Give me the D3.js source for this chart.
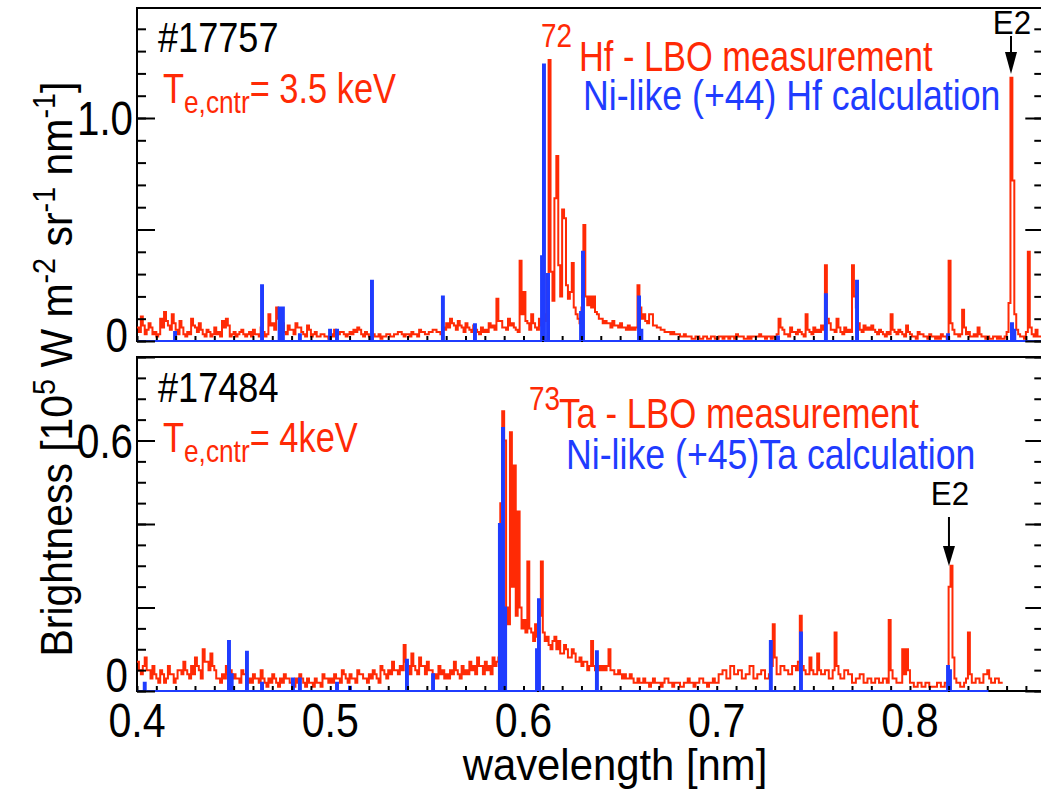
<!DOCTYPE html>
<html>
<head>
<meta charset="utf-8">
<script src="https://cdn.jsdelivr.net/npm/d3@7"></script>
<style>
  body { margin: 0; background: #fff; }
  svg { display: block; }
  text { font-family: "Liberation Sans", Arimo, Arial, sans-serif; }
</style>
</head>
<body>
<svg id="chart" width="1041" height="790"></svg>
<script>
// ---- Hf (#17757): measured LBO spectrum, 0.001 nm bins from 0.400 nm (10^5 W m^-2 sr^-1 nm^-1)
const hfStart = 0.400, hfStep = 0.001;
const hfMeasured = [
  0.06,0.04,0.11,0.07,0.03,0.05,0.08,0.06,0.03,0.04,
  0.02,0.03,0.10,0.06,0.13,0.09,0.07,0.05,0.12,0.08,
  0.05,0.03,0.09,0.06,0.03,0.02,0.04,0.03,0.10,0.07,
  0.06,0.04,0.08,0.05,0.03,0.02,0.05,0.04,0.02,0.03,
  0.06,0.03,0.04,0.02,0.09,0.06,0.10,0.07,0.02,0.03,
  0.04,0.02,0.03,0.04,0.05,0.03,0.02,0.03,0.04,0.02,
  0.05,0.03,0.03,0.02,0.06,0.04,0.02,0.03,0.12,0.07,
  0.08,0.05,0.15,0.10,0.14,0.08,0.04,0.03,0.07,0.05,
  0.05,0.03,0.08,0.06,0.06,0.04,0.03,0.02,0.07,0.05,
  0.02,0.03,0.04,0.02,0.02,0.03,0.03,0.02,0.02,0.01,
  0.03,0.02,0.05,0.03,0.03,0.04,0.04,0.03,0.02,0.03,
  0.04,0.03,0.05,0.04,0.06,0.05,0.03,0.02,0.04,0.03,
  0.02,0.01,0.03,0.02,0.02,0.03,0.01,0.02,0.02,0.03,
  0.03,0.02,0.02,0.03,0.03,0.04,0.04,0.03,0.02,0.03,
  0.03,0.02,0.04,0.03,0.03,0.02,0.05,0.04,0.04,0.03,
  0.03,0.04,0.04,0.05,0.05,0.04,0.04,0.03,0.06,0.05,
  0.08,0.06,0.10,0.08,0.07,0.05,0.09,0.07,0.06,0.04,
  0.08,0.06,0.05,0.04,0.07,0.05,0.04,0.03,0.06,0.04,
  0.05,0.04,0.08,0.06,0.07,0.05,0.19,0.09,0.09,0.06,
  0.06,0.05,0.10,0.07,0.08,0.06,0.05,0.04,0.36,0.12,
  0.22,0.09,0.08,0.05,0.12,0.08,0.06,0.05,0.10,0.07,
  0.12,0.09,0.30,1.26,0.31,0.18,0.64,0.83,0.34,0.20,
  0.59,0.55,0.25,0.19,0.22,0.35,0.15,0.12,0.10,0.08,
  0.15,0.52,0.20,0.16,0.20,0.15,0.20,0.13,0.12,0.10,
  0.10,0.08,0.09,0.08,0.08,0.06,0.09,0.07,0.07,0.06,
  0.08,0.06,0.06,0.05,0.07,0.05,0.06,0.05,0.06,0.25,
  0.15,0.10,0.12,0.09,0.08,0.12,0.12,0.07,0.07,0.06,
  0.06,0.05,0.05,0.04,0.04,0.04,0.03,0.04,0.03,0.03,
  0.03,0.02,0.02,0.03,0.02,0.02,0.02,0.01,0.01,0.02,
  0.02,0.01,0.01,0.02,0.02,0.01,0.01,0.02,0.02,0.01,
  0.01,0.02,0.02,0.01,0.02,0.02,0.01,0.02,0.02,0.01,
  0.03,0.02,0.02,0.02,0.01,0.01,0.02,0.01,0.02,0.02,
  0.02,0.02,0.03,0.02,0.02,0.01,0.02,0.02,0.01,0.02,
  0.02,0.03,0.10,0.06,0.05,0.03,0.03,0.02,0.06,0.04,
  0.04,0.03,0.05,0.04,0.03,0.02,0.12,0.05,0.04,0.03,
  0.06,0.04,0.05,0.04,0.07,0.05,0.34,0.10,0.08,0.05,
  0.05,0.04,0.10,0.06,0.04,0.03,0.06,0.04,0.05,0.04,
  0.34,0.20,0.15,0.08,0.05,0.04,0.07,0.05,0.06,0.05,
  0.07,0.05,0.04,0.03,0.05,0.04,0.03,0.02,0.04,0.03,
  0.12,0.05,0.04,0.03,0.05,0.04,0.03,0.02,0.07,0.04,
  0.03,0.02,0.02,0.01,0.04,0.03,0.03,0.02,0.02,0.01,
  0.03,0.02,0.02,0.01,0.02,0.01,0.03,0.02,0.02,0.01,
  0.36,0.08,0.05,0.03,0.03,0.02,0.03,0.14,0.06,0.03,
  0.04,0.02,0.02,0.03,0.02,0.06,0.03,0.02,0.02,0.01,
  0.02,0.01,0.01,0.02,0.02,0.01,0.02,0.01,0.01,0.02,
  0.04,0.17,1.18,0.72,0.12,0.05,0.03,0.02,0.02,0.01,
  0.04,0.40,0.06,0.03,0.02,0.05,0.02,0.02,0.02
];
// Ni-like (+44) Hf calculated lines: [wavelength nm, brightness]
const hfLines = [
  [0.4197,0.04],[0.4647,0.25],[0.4738,0.15],[0.4755,0.15],[0.4843,0.03],
  [0.4999,0.05],[0.5035,0.05],[0.5216,0.27],[0.5583,0.20],[0.5749,0.075],
  [0.6096,0.38],[0.6106,1.24],[0.6127,0.30],[0.6298,0.13],[0.6308,0.40],
  [0.6598,0.20],[0.6610,0.05],[0.7317,0.02],[0.7565,0.21],[0.7726,0.27],
  [0.8197,0.03],[0.8528,0.08],[0.8540,0.05]
];
const hfCalcEnd = 0.869;

// ---- Ta (#17484): measured LBO spectrum, 0.001 nm bins from 0.400 nm
const taStart = 0.400, taStep = 0.001;
const taMeasured = [
  0.07,0.05,0.04,0.06,0.08,0.05,0.05,0.03,0.06,0.04,
  0.03,0.02,0.05,0.04,0.02,0.03,0.06,0.04,0.04,0.02,
  0.03,0.05,0.05,0.04,0.07,0.05,0.04,0.03,0.06,0.04,
  0.08,0.06,0.05,0.03,0.10,0.07,0.07,0.05,0.09,0.06,
  0.05,0.03,0.03,0.02,0.04,0.03,0.06,0.04,0.05,0.03,
  0.04,0.03,0.03,0.02,0.05,0.04,0.04,0.02,0.03,0.02,
  0.04,0.03,0.03,0.02,0.05,0.03,0.02,0.01,0.03,0.02,
  0.04,0.03,0.02,0.01,0.03,0.02,0.04,0.03,0.03,0.02,
  0.02,0.01,0.03,0.02,0.04,0.03,0.02,0.01,0.03,0.02,
  0.02,0.01,0.03,0.02,0.02,0.01,0.04,0.03,0.03,0.02,
  0.03,0.02,0.04,0.03,0.03,0.02,0.05,0.04,0.03,0.02,
  0.04,0.03,0.03,0.02,0.05,0.04,0.04,0.03,0.03,0.02,
  0.04,0.03,0.05,0.04,0.03,0.02,0.06,0.05,0.04,0.03,
  0.05,0.04,0.07,0.05,0.05,0.04,0.06,0.05,0.11,0.07,
  0.06,0.04,0.09,0.06,0.05,0.04,0.08,0.06,0.06,0.04,
  0.07,0.05,0.05,0.03,0.04,0.03,0.06,0.04,0.05,0.03,
  0.04,0.03,0.05,0.04,0.07,0.05,0.04,0.03,0.06,0.04,
  0.05,0.04,0.07,0.05,0.06,0.04,0.08,0.06,0.06,0.04,
  0.07,0.05,0.06,0.04,0.08,0.06,0.07,0.08,0.45,0.67,
  0.60,0.20,0.16,0.62,0.25,0.54,0.18,0.43,0.20,0.15,
  0.17,0.14,0.31,0.15,0.14,0.12,0.16,0.13,0.18,0.31,
  0.14,0.12,0.13,0.11,0.10,0.12,0.13,0.10,0.12,0.09,
  0.09,0.11,0.10,0.08,0.08,0.10,0.09,0.07,0.07,0.08,
  0.06,0.07,0.07,0.05,0.06,0.12,0.06,0.05,0.05,0.06,
  0.05,0.06,0.05,0.06,0.10,0.05,0.05,0.04,0.04,0.05,
  0.04,0.03,0.04,0.03,0.03,0.04,0.03,0.02,0.02,0.03,
  0.02,0.02,0.03,0.02,0.02,0.01,0.02,0.03,0.02,0.02,
  0.02,0.01,0.02,0.03,0.03,0.02,0.02,0.01,0.02,0.02,
  0.02,0.01,0.01,0.02,0.02,0.03,0.02,0.02,0.01,0.02,
  0.02,0.03,0.03,0.02,0.02,0.01,0.02,0.02,0.03,0.02,
  0.02,0.04,0.04,0.05,0.05,0.03,0.03,0.06,0.06,0.04,
  0.04,0.05,0.05,0.03,0.03,0.04,0.04,0.06,0.06,0.03,
  0.03,0.04,0.04,0.05,0.05,0.03,0.03,0.04,0.06,0.16,
  0.08,0.04,0.04,0.06,0.06,0.05,0.05,0.04,0.04,0.06,
  0.06,0.05,0.07,0.18,0.06,0.05,0.04,0.04,0.08,0.05,
  0.04,0.04,0.09,0.05,0.04,0.04,0.05,0.05,0.03,0.03,
  0.05,0.14,0.06,0.04,0.03,0.03,0.05,0.05,0.04,0.04,
  0.02,0.02,0.03,0.03,0.04,0.04,0.02,0.02,0.03,0.03,
  0.02,0.02,0.03,0.03,0.02,0.02,0.03,0.03,0.02,0.17,
  0.05,0.03,0.03,0.02,0.02,0.02,0.10,0.04,0.10,0.05,
  0.02,0.02,0.01,0.01,0.02,0.02,0.01,0.01,0.02,0.02,
  0.01,0.01,0.01,0.01,0.02,0.02,0.01,0.01,0.02,0.02,
  0.25,0.30,0.08,0.03,0.02,0.02,0.01,0.01,0.02,0.03,
  0.14,0.04,0.02,0.02,0.03,0.03,0.02,0.02,0.04,0.04,
  0.05,0.03,0.02,0.02,0.03,0.03,0.02,0.02
];
// Ni-like (+45) Ta calculated lines: [wavelength nm, brightness]
const taLines = [
  [0.4040,0.02],[0.4476,0.12],[0.4490,0.04],[0.4569,0.094],[0.4647,0.02],
  [0.4807,0.03],[0.4843,0.03],[0.5035,0.02],[0.5102,0.01],[0.5397,0.075],
  [0.5532,0.04],[0.5878,0.40],[0.5894,0.63],[0.5905,0.20],[0.6070,0.10],
  [0.6080,0.22],[0.6380,0.095],[0.7280,0.12],[0.7436,0.14],[0.8197,0.06],
  [0.8207,0.05]
];
const taCalcEnd = 0.8406;

// axis ticks and labels
const xTickLabels = [0.4, 0.5, 0.6, 0.7, 0.8];
const hfYLabels = [[0, "0"], [1.0, "1.0"]];
const taYLabels = [[0, "0"], [0.6, "0.6"]];
const e2Hf = 0.8528, e2Ta = 0.8207;

const RED = "#ff2a05", BLUE = "#1f3cff";
const svg = d3.select("#chart");

const xL = 137, xR = 1043.3;
const x = d3.scaleLinear().domain([0.4, 0.869]).range([xL, xR]);

// Text helper: condensed glyphs through a horizontal scale
function txt(parent, px, py, parts, opts) {
  const o = Object.assign({ size: 43, sx: 0.82, anchor: "start", fill: "#000", rot: 0 }, opts || {});
  const t = parent.append("text")
    .attr("transform", `translate(${px},${py}) rotate(${o.rot}) scale(${o.sx},1)`)
    .attr("text-anchor", o.anchor)
    .attr("fill", o.fill)
    .attr("font-size", o.size);
  parts.forEach(p => {
    if (typeof p === "string") p = { t: p };
    const s = t.append("tspan").text(p.t);
    if (p.size) s.attr("font-size", p.size);
    if (p.dy) s.attr("dy", p.dy);
    if (p.fill) s.attr("fill", p.fill);
  });
  return t;
}

function stepSeries(start, step, vals) {
  const pts = vals.map((v, i) => [start + i * step, v]);
  pts.push([start + vals.length * step, vals[vals.length - 1]]);
  return pts;
}
function linePoints(lines, start, end, halfW) {
  const pts = [[start, 0]];
  lines.slice().sort((a, b) => a[0] - b[0]).forEach(([w, h]) => {
    pts.push([w - halfW, 0], [w - halfW, h], [w + halfW, h], [w + halfW, 0]);
  });
  pts.push([end, 0]);
  return pts;
}

function panel(cfg) {
  const y = d3.scaleLinear().domain([0, cfg.yMax]).range([cfg.y1, cfg.y0]);
  const g = svg.append("g");
  const clipId = "clip" + cfg.id;
  svg.append("clipPath").attr("id", clipId)
    .append("rect").attr("x", xL).attr("y", cfg.y0).attr("width", xR - xL).attr("height", cfg.y1 - cfg.y0 + 1.5);

  // frame
  g.append("rect").attr("x", xL).attr("y", cfg.y0).attr("width", xR - xL).attr("height", cfg.y1 - cfg.y0)
    .attr("fill", "none").attr("stroke", "#000").attr("stroke-width", 2);

  const data = g.append("g").attr("clip-path", `url(#${clipId})`);

  data.append("path")
    .attr("d", d3.line().x(d => x(d[0])).y(d => y(d[1])).curve(d3.curveStepAfter)(stepSeries(cfg.start, cfg.step, cfg.measured)))
    .attr("fill", "none").attr("stroke", RED).attr("stroke-width", 2);

  data.append("path")
    .attr("d", d3.line().x(d => x(d[0])).y(d => y(d[1]))(linePoints(cfg.lines, 0.4, cfg.calcEnd, 0.0005)))
    .attr("fill", "none").attr("stroke", BLUE).attr("stroke-width", 2);

  // y ticks, inward on both sides
  const minor = d3.range(0, cfg.yMax + 1e-9, cfg.minor);
  const major = d3.range(0, cfg.yMax + 1e-9, cfg.major);
  const addY = (axis, xpos, vals, len) => {
    const a = g.append("g").attr("transform", `translate(${xpos},0)`)
      .call(axis(y).tickValues(vals).tickSize(len).tickFormat(""));
    a.select(".domain").remove();
    a.selectAll("line").attr("stroke", "#000").attr("stroke-width", 2);
  };
  addY(d3.axisRight, xL, minor, 9);
  addY(d3.axisRight, xL, major, 18);
  addY(d3.axisLeft, xR, minor, 9);
  addY(d3.axisLeft, xR, major, 18);

  // x ticks along the panel bottom, pointing up
  const xMinor = d3.range(0.4, 0.8695, 0.01);
  const xa = g.append("g").attr("transform", `translate(0,${cfg.y1 - 1})`)
    .call(d3.axisTop(x).tickValues(xMinor).tickSize(4).tickFormat(""));
  xa.select(".domain").remove();
  xa.selectAll("line").attr("stroke", "#000").attr("stroke-width", 2);

  // y labels
  cfg.yLabels.forEach(([v, s]) => {
    const off = v === 0 ? cfg.zeroShift : 0;
    txt(g, v === 0 ? 128 : 133, y(v) + 17 - off, [s], { size: 48, sx: 0.84, anchor: "end" });
  });
  return { g, y };
}

// ---- upper panel: Hf
const hfPanel = panel({
  id: "hf", y0: 8, y1: 341, yMax: 1.4933, minor: 0.1, major: 0.5,
  start: hfStart, step: hfStep, measured: hfMeasured, lines: hfLines, calcEnd: hfCalcEnd,
  yLabels: hfYLabels, zeroShift: 6
});
txt(hfPanel.g, 158, 52, ["#17757"], { size: 43, sx: 0.84 });
txt(hfPanel.g, 163, 103, [{ t: "T" }, { t: "e,cntr", size: 32, dy: 10 }, { t: "= 3.5 keV", dy: -10 }], { size: 42, sx: 0.82, fill: RED });
txt(hfPanel.g, 541, 47, ["72"], { size: 34, sx: 0.82, fill: RED });
txt(hfPanel.g, 579, 71, ["Hf - LBO measurement"], { size: 43, sx: 0.80, fill: RED });
txt(hfPanel.g, 583, 110, ["Ni-like (+44) Hf calculation"], { size: 43, sx: 0.83, fill: BLUE });

// ---- lower panel: Ta
const taPanel = panel({
  id: "ta", y0: 357, y1: 691, yMax: 0.8, minor: 0.05, major: 0.2,
  start: taStart, step: taStep, measured: taMeasured, lines: taLines, calcEnd: taCalcEnd,
  yLabels: taYLabels, zeroShift: 16
});
txt(taPanel.g, 158, 402, ["#17484"], { size: 43, sx: 0.84 });
txt(taPanel.g, 163, 452, [{ t: "T" }, { t: "e,cntr", size: 32, dy: 10 }, { t: "= 4keV", dy: -10 }], { size: 42, sx: 0.82, fill: RED });
txt(taPanel.g, 529, 410, ["73"], { size: 34, sx: 0.82, fill: RED });
txt(taPanel.g, 559, 428, ["Ta - LBO measurement"], { size: 43, sx: 0.81, fill: RED });
txt(taPanel.g, 566, 469, ["Ni-like (+45)Ta calculation"], { size: 43, sx: 0.83, fill: BLUE });

// E2 markers
function e2(px, labelY, lineTop, headTop, headBot) {
  txt(svg, px + 1, labelY, ["E2"], { size: 33, sx: 0.95, anchor: "middle" });
  svg.append("line").attr("x1", px).attr("x2", px).attr("y1", lineTop).attr("y2", headTop + 4)
    .attr("stroke", "#000").attr("stroke-width", 2);
  svg.append("path").attr("d", `M${px - 6},${headTop}L${px + 6},${headTop}L${px},${headBot}Z`).attr("fill", "#000");
}
e2(x(e2Hf) - 1, 34, 36, 52, 74);
e2(x(e2Ta) - 1, 505, 517, 546, 566);

// x tick labels and axis titles
xTickLabels.forEach(v => txt(svg, x(v), 737, [String(v)], { size: 49, sx: 0.84, anchor: "middle" }));
txt(svg, 615, 780, ["wavelength [nm]"], { size: 45, sx: 0.93, anchor: "middle" });
txt(svg, 72, 369, [
  "Brightness [10", { t: "5", size: 31, dy: -17 }, { t: " W m", dy: 17 },
  { t: "-2", size: 31, dy: -17 }, { t: " sr", dy: 17 },
  { t: "-1", size: 31, dy: -17 }, { t: " nm", dy: 17 },
  { t: "-1", size: 31, dy: -17 }, { t: "]", dy: 17 }
], { size: 44, sx: 0.93, anchor: "middle", rot: -90 });
</script>
</body>
</html>
